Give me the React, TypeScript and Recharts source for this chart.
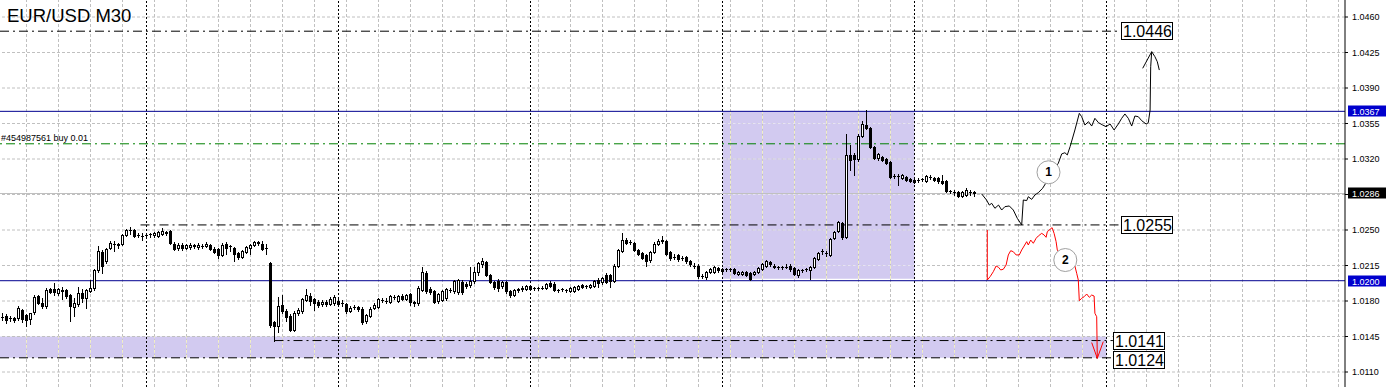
import React from "react";
import {
  ComposedChart,
  XAxis,
  YAxis,
  Scatter,
  Line,
  ReferenceLine,
  ReferenceArea,
  ReferenceDot,
} from "recharts";

// candles are [open, high, low, close] in pips above 1.0000
type OHLC = [number, number, number, number];

const DAY1: OHLC[] = [
  [164, 168, 161, 164], [165, 167, 158, 161], [163, 165, 160, 163], [163, 164, 159, 161],
  [163, 175, 161, 173], [171, 172, 159, 162], [166, 167, 155, 161], [162, 168, 157, 168],
  [169, 186, 167, 184], [185, 186, 177, 178], [178, 183, 173, 175], [175, 193, 173, 191],
  [192, 193, 188, 189], [192, 198, 186, 189], [188, 193, 186, 192], [191, 194, 182, 190],
  [191, 192, 183, 185], [186, 187, 160, 175], [174, 183, 165, 178], [177, 194, 175, 188],
  [188, 192, 179, 183], [183, 192, 173, 191], [190, 201, 189, 193], [193, 212, 191, 211],
  [211, 234, 209, 229], [228, 230, 208, 215], [219, 232, 217, 231], [232, 239, 231, 237],
  [236, 239, 229, 236], [236, 237, 232, 235], [236, 246, 235, 245], [245, 251, 244, 250],
  [250, 253, 246, 250], [250, 251, 243, 244], [245, 247, 243, 245], [244, 247, 240, 244],
];

const DAY2: OHLC[] = [
  [245, 247, 242, 245], [246, 247, 243, 246], [245, 248, 243, 247], [244, 249, 243, 248],
  [246, 252, 245, 249], [248, 249, 245, 247], [249, 250, 236, 237], [236, 238, 230, 231],
  [232, 237, 230, 235], [235, 237, 230, 232], [232, 236, 231, 235], [233, 237, 231, 235],
  [234, 236, 232, 235], [233, 237, 231, 235], [234, 236, 232, 234], [234, 238, 233, 236],
  [235, 236, 230, 231], [231, 233, 227, 228], [231, 232, 222, 225], [225, 237, 224, 235],
  [236, 238, 226, 232], [234, 235, 229, 234], [232, 233, 219, 226], [227, 228, 221, 223],
  [223, 230, 222, 229], [228, 234, 227, 233], [232, 236, 226, 235], [235, 239, 234, 238],
  [237, 239, 235, 238], [236, 239, 230, 231], [232, 236, 226, 232], [217, 218, 154, 156],
  [159, 160, 141, 155], [155, 184, 149, 175], [176, 186, 168, 170], [170, 172, 160, 164],
  [165, 167, 150, 151], [151, 170, 150, 168], [168, 173, 166, 171], [170, 183, 168, 182],
  [181, 192, 180, 186], [185, 188, 176, 180], [182, 183, 171, 178], [179, 181, 174, 176],
  [177, 181, 175, 179], [179, 181, 175, 177], [177, 184, 176, 182], [178, 186, 176, 184],
];

const DAY3: OHLC[] = [
  [180, 182, 175, 177], [178, 181, 175, 178], [177, 178, 168, 170], [170, 175, 169, 173],
  [174, 176, 172, 174], [174, 175, 170, 172], [172, 174, 157, 159], [160, 167, 158, 166],
  [165, 174, 164, 172], [173, 178, 172, 176], [174, 183, 173, 182], [181, 183, 179, 181],
  [180, 183, 178, 180], [179, 186, 178, 185], [184, 186, 182, 184], [180, 186, 179, 185],
  [185, 187, 181, 182], [182, 187, 181, 186], [187, 188, 176, 179], [179, 180, 175, 178],
  [178, 195, 176, 193], [191, 214, 190, 209], [208, 210, 188, 190], [192, 194, 187, 189],
  [190, 191, 178, 179], [180, 188, 178, 187], [181, 191, 180, 190], [183, 193, 181, 192],
  [191, 193, 189, 191], [190, 201, 188, 200], [189, 202, 187, 201], [199, 201, 187, 189],
  [197, 199, 193, 195], [196, 214, 194, 200], [200, 214, 198, 209], [209, 218, 206, 217],
  [216, 222, 214, 219], [218, 219, 205, 206], [206, 207, 198, 199], [199, 200, 192, 194],
  [200, 202, 190, 193], [195, 200, 193, 199], [199, 200, 188, 190], [190, 191, 184, 186],
  [186, 192, 185, 191], [191, 193, 189, 192], [192, 195, 190, 193], [192, 196, 191, 195],
];

const DAY4: OHLC[] = [
  [195, 196, 191, 192], [193, 194, 191, 193], [193, 194, 191, 193], [193, 195, 192, 193],
  [193, 198, 192, 197], [198, 200, 194, 195], [197, 199, 190, 191], [191, 192, 189, 191],
  [192, 193, 190, 192], [191, 192, 189, 191], [190, 194, 189, 193], [190, 195, 189, 194],
  [192, 196, 191, 195], [196, 197, 193, 194], [195, 196, 193, 195], [194, 197, 193, 196],
  [195, 201, 194, 200], [201, 203, 194, 198], [199, 204, 197, 203], [206, 208, 198, 199],
  [206, 207, 194, 200], [200, 216, 199, 215], [215, 231, 214, 230], [229, 247, 228, 240],
  [240, 242, 236, 237], [238, 240, 236, 238], [237, 238, 229, 230], [230, 231, 225, 226],
  [227, 228, 221, 222], [225, 226, 215, 219], [220, 229, 218, 228], [228, 238, 227, 236],
  [236, 241, 235, 239], [240, 244, 237, 239], [239, 240, 225, 226], [228, 229, 220, 222],
  [223, 226, 221, 223], [225, 226, 219, 221], [222, 224, 220, 222], [223, 224, 217, 219],
  [219, 220, 215, 216], [215, 217, 213, 215], [215, 216, 203, 205], [205, 207, 203, 205],
  [204, 210, 202, 209], [209, 213, 208, 212], [209, 215, 208, 214], [213, 214, 209, 211],
];

const DAY5: OHLC[] = [
  [212, 213, 209, 210], [212, 213, 210, 212], [212, 213, 210, 212], [212, 213, 207, 208],
  [207, 210, 206, 209], [207, 210, 206, 209], [209, 210, 205, 206], [208, 209, 201, 202],
  [207, 210, 206, 209], [209, 214, 208, 213], [212, 217, 211, 216], [215, 220, 214, 219],
  [218, 219, 215, 216], [215, 216, 213, 214], [214, 215, 212, 214], [214, 215, 212, 214],
  [214, 216, 213, 214], [215, 216, 210, 212], [213, 214, 206, 207], [206, 212, 204, 211],
  [211, 212, 209, 211], [212, 213, 210, 212], [211, 215, 202, 214], [214, 223, 213, 222],
  [221, 228, 220, 227], [229, 231, 226, 229], [227, 229, 224, 227], [225, 242, 224, 241],
  [242, 249, 241, 248], [249, 259, 248, 258], [257, 258, 241, 243], [243, 345, 242, 324],
  [324, 334, 309, 319], [324, 326, 304, 320], [320, 345, 318, 343], [343, 357, 342, 355],
  [354, 368, 350, 351], [351, 352, 331, 332], [332, 333, 320, 321], [321, 326, 319, 325],
  [322, 323, 318, 319], [320, 321, 315, 316], [317, 318, 301, 302], [303, 305, 301, 303],
  [303, 305, 294, 303], [301, 305, 300, 304], [302, 303, 298, 299], [300, 301, 297, 298],
];

const DAY6: OHLC[] = [
  [299, 300, 296, 297], [299, 301, 297, 299], [300, 301, 298, 300], [298, 304, 297, 303],
  [302, 304, 300, 302], [301, 302, 298, 299], [301, 302, 296, 298], [298, 304, 295, 296],
  [298, 299, 287, 288], [288, 289, 286, 288], [287, 289, 285, 287], [287, 288, 283, 284],
  [284, 288, 283, 287], [285, 291, 284, 289], [287, 289, 285, 287], [287, 288, 284, 286],
];

// hand-drawn forecast paths: [bar index, pips]
const BLACK_PATH: [number, number][] = [
  [244.8, 285.5], [246.0, 279.6], [246.7, 274.6], [247.3, 276.3], [248.1, 271.4], [249.0, 274.6],
  [249.8, 269.7], [250.6, 273], [251.7, 273.7], [252.7, 269.7], [253.7, 261.5], [254.8, 255],
  [255.2, 279.6], [256.05, 279], [256.45, 282.8], [257.3, 280.2], [258.1, 284.5], [258.95, 286.8],
  [260.0, 291], [263.95, 315.8], [264.8, 325], [265.6, 326.2], [266.2, 324], [266.9, 332.2],
  [268.1, 348.6], [269.2, 365], [269.8, 361.7], [270.6, 353.5], [271.5, 356.8], [272.3, 352.5],
  [273.1, 360.1], [274, 355.8], [275.05, 353.5], [275.9, 351.9], [276.9, 354.5], [277.9, 348.6],
  [278.95, 354.5], [279.8, 360.1], [280.6, 364.4], [281.45, 360.1], [282.3, 352.5], [283.1, 362.4],
  [283.95, 361.7], [284.8, 357.8], [285.9, 354.5], [286.45, 355.8], [286.9, 368.3], [287.05, 411],
  [287.3, 425.8], [288.1, 420.9], [288.7, 415.9], [289.2, 407.7],
];
const BLACK_WING: [number, number][] = [[285.05, 409.4], [287.3, 425.8]];

const RED_PATH: [number, number][] = [
  [246.2, 250], [246.2, 200.7], [246.9, 204], [247.7, 208.9], [248.4, 214.5], [249, 213.2],
  [249.55, 210.6], [250.2, 211.3], [250.9, 215.5], [251.45, 225.4], [252.05, 229.6], [252.7, 228.6],
  [253.4, 225.4], [254.2, 225.4], [254.8, 230.3], [255.4, 234.2], [256.05, 238.5], [256.45, 235.2],
  [257.05, 240.1], [257.7, 236.9], [258.4, 241.8], [258.95, 244.1], [259.8, 246.7], [260.4, 245.1],
  [260.9, 242.8], [261.2, 248.3], [261.9, 250.7], [262.4, 252.3], [262.9, 246.7], [263.4, 238.5],
  [263.7, 230.3], [265.7, 220], [268.1, 214.5], [268.55, 207.3], [268.95, 200.7], [269.2, 180.3],
  [269.8, 182.7], [270.4, 184.2], [271.05, 186.9], [271.7, 183.6], [272.3, 185.9], [272.9, 184.9],
  [273.1, 167.9], [273.55, 164.5], [273.7, 123.5], [275.2, 140],
];
const RED_WING: [number, number][] = [[272.3, 139], [273.7, 123.5]];

const MARKERS: { label: string; at: [number, number] }[] = [
  { label: "1", at: [261.5, 306.9] },
  { label: "2", at: [265.7, 220.4] },
];

const Y_TICKS = [1.011, 1.0145, 1.018, 1.0215, 1.025, 1.0285, 1.032, 1.0355, 1.039, 1.0425, 1.046];
const SEPARATORS = [36, 84, 132, 180, 228, 276];

const ORDER_PRICE = 1.0335;
const ORDER_TEXT = "#454987561 buy 0.01";
const LINE_HIGH = 1.0367;
const LINE_LOW = 1.02;
const BID = 1.0286;

// lavender zones: [x1, x2, y1, y2]
const ZONE_LOW = { x1: -0.625, x2: 276, y1: 1.0124, y2: 1.0145 };
const ZONE_BOX = { x1: 180, x2: 228, y1: 1.0202, y2: 1.0367 };

// chart geometry
const W = 1386;
const H = 387;
const PLOT_W = 1345;
const X_MIN = -0.625;
const X_MAX = X_MIN + PLOT_W / 4;
const PX_PER_UNIT = 355 / 0.035;
const Y_MAX = 1.046 + 17 / PX_PER_UNIT;
const Y_MIN = Y_MAX - H / PX_PER_UNIT;
const TAG_END = 279.6;
const TAG_END_LOW = 277.6;

const pip = (p: number) => 1 + p / 10000;

const CANDLES = [...DAY1, ...DAY2, ...DAY3, ...DAY4, ...DAY5, ...DAY6].map(([o, h, l, c], i) => ({
  i,
  o: pip(o),
  h: pip(h),
  l: pip(l),
  c: pip(c),
}));

const toPoints = (arr: [number, number][]) => arr.map(([i, p]) => ({ i, p: pip(p) }));

const GRID_X = Array.from({ length: 42 }, (_, k) => 6 + 8 * k);

const DASHDOT = "9 4 2 4";
const GRID = "#c0c0c0";
const GRID_ON_ZONE = "#f2efc4";
const LAVENDER = "#d2caf0";
const FONT = "'Liberation Sans', Arial, sans-serif";

function Candle(props: any) {
  const { cx, cy, payload } = props;
  if (cx == null || cy == null) return null;
  const { o, h, l, c } = payload;
  const yAt = (p: number) => Math.round(cy + (h - p) * PX_PER_UNIT);
  const x = Math.floor(cx) + 0.5;
  const hi = yAt(h);
  const lo = yAt(l);
  const top = yAt(Math.max(o, c));
  const bot = yAt(Math.min(o, c));
  return (
    <g>
      <line x1={x} x2={x} y1={hi} y2={lo + 1} stroke="#000" strokeWidth={1} />
      {top === bot ? (
        <line x1={x - 1.5} x2={x + 1.5} y1={top + 0.5} y2={top + 0.5} stroke="#000" />
      ) : c > o ? (
        <rect x={x - 1} y={top + 0.5} width={2} height={bot - top} fill="#fff" stroke="#000" />
      ) : (
        <rect x={x - 1.5} y={top} width={3} height={bot - top + 1} fill="#000" />
      )}
    </g>
  );
}

function AxisTag({ cx, cy, text, bg }: any) {
  const y = Math.round(cy);
  return (
    <g>
      <rect x={cx + 3} y={y - 5.5} width={38} height={11} fill={bg} />
      <text x={cx + 7} y={y + 3.5} fill="#fff" fontSize={9} fontFamily={FONT}>
        {text}
      </text>
    </g>
  );
}

function PriceBox({ cx, cy, text, shift = 0 }: any) {
  const y = Math.round(cy) + shift;
  return (
    <g>
      <rect x={Math.round(cx) + 0.5} y={y - 8.5} width={51} height={17} fill="#fff" stroke="#000" />
      <text x={Math.round(cx) + 2} y={y + 6} fill="#000" fontSize={16} fontFamily={FONT}>
        {text}
      </text>
    </g>
  );
}

function Marker({ cx, cy, text }: any) {
  return (
    <g>
      <circle cx={cx} cy={cy} r={11.5} fill="#fff" stroke="#a0a0a0" />
      <text x={cx} y={cy + 4} textAnchor="middle" fontSize={12} fontWeight="bold" fontFamily={FONT} fill="#000">
        {text}
      </text>
    </g>
  );
}

export default function App() {
  const zoneGridX = GRID_X.filter((g) => g > ZONE_BOX.x1 && g < ZONE_BOX.x2);
  const zoneGridY = Y_TICKS.filter((t) => t > ZONE_BOX.y1 && t < ZONE_BOX.y2);
  const lowGridX = GRID_X.filter((g) => g < ZONE_LOW.x2);
  return (
    <div style={{ position: "absolute", left: 0, top: 0, width: W, height: H, background: "#fff" }}>
      <ComposedChart width={W} height={H} margin={{ top: 0, right: 0, bottom: 0, left: 0 }}>
        <XAxis type="number" dataKey="i" domain={[X_MIN, X_MAX]} allowDataOverflow hide />
        <YAxis
          orientation="right"
          domain={[Y_MIN, Y_MAX]}
          allowDataOverflow
          ticks={Y_TICKS}
          interval={0}
          width={41}
          tickSize={3}
          tickMargin={4}
          tickFormatter={(v: number) => (v === 1.0285 ? "" : v.toFixed(4))}
          tick={{ fontSize: 9, fill: "#000", fontFamily: FONT }}
          axisLine={{ stroke: "#000" }}
          tickLine={{ stroke: "#000" }}
        />

        {Y_TICKS.map((t) => (
          <ReferenceLine key={`gy${t}`} y={t} stroke={GRID} strokeDasharray="3 2" />
        ))}
        {GRID_X.map((g) => (
          <ReferenceLine key={`gx${g}`} x={g} stroke={GRID} strokeDasharray="3 2" />
        ))}

        <ReferenceArea {...ZONE_LOW} fill={LAVENDER} fillOpacity={1} stroke="none" />
        <ReferenceArea {...ZONE_BOX} fill={LAVENDER} fillOpacity={1} stroke="none" />

        {lowGridX.map((g) => (
          <ReferenceLine
            key={`zl${g}`}
            segment={[{ x: g, y: ZONE_LOW.y1 }, { x: g, y: ZONE_LOW.y2 }]}
            stroke={GRID_ON_ZONE}
            strokeDasharray="3 2"
          />
        ))}
        {zoneGridX.map((g) => (
          <ReferenceLine
            key={`zb${g}`}
            segment={[{ x: g, y: ZONE_BOX.y1 }, { x: g, y: ZONE_BOX.y2 }]}
            stroke={GRID_ON_ZONE}
            strokeDasharray="3 2"
          />
        ))}
        {zoneGridY.map((t) => (
          <ReferenceLine
            key={`zy${t}`}
            segment={[{ x: ZONE_BOX.x1, y: t }, { x: ZONE_BOX.x2, y: t }]}
            stroke="#e6e2f4"
            strokeDasharray="3 2"
          />
        ))}

        {SEPARATORS.map((s) => (
          <ReferenceLine key={`sep${s}`} x={s} stroke="#000" strokeDasharray="2 2" />
        ))}

        <ReferenceLine y={BID} stroke="#c0c0c0" />
        <ReferenceLine y={LINE_HIGH} stroke="#000090" />
        <ReferenceLine y={LINE_LOW} stroke="#000090" />
        <ReferenceLine y={ORDER_PRICE} stroke="#008000" strokeDasharray={DASHDOT} />

        <ReferenceLine segment={[{ x: X_MIN, y: 1.0446 }, { x: TAG_END, y: 1.0446 }]} stroke="#000" strokeDasharray={DASHDOT} />
        <ReferenceLine segment={[{ x: 34.5, y: 1.0255 }, { x: TAG_END, y: 1.0255 }]} stroke="#000" strokeDasharray={DASHDOT} />
        <ReferenceLine segment={[{ x: 68, y: 1.0141 }, { x: TAG_END_LOW, y: 1.0141 }]} stroke="#000" strokeDasharray={DASHDOT} />
        <ReferenceLine segment={[{ x: X_MIN, y: 1.0124 }, { x: TAG_END_LOW, y: 1.0124 }]} stroke="#000" strokeDasharray={DASHDOT} />

        <Scatter data={CANDLES} dataKey="h" shape={Candle} isAnimationActive={false} />

        <Line data={toPoints(BLACK_PATH)} dataKey="p" stroke="#000" strokeWidth={1} dot={false} activeDot={false} isAnimationActive={false} />
        <Line data={toPoints(BLACK_WING)} dataKey="p" stroke="#000" strokeWidth={1} dot={false} activeDot={false} isAnimationActive={false} />
        <Line data={toPoints(RED_PATH)} dataKey="p" stroke="#ff0000" strokeWidth={1} dot={false} activeDot={false} isAnimationActive={false} />
        <Line data={toPoints(RED_WING)} dataKey="p" stroke="#ff0000" strokeWidth={1} dot={false} activeDot={false} isAnimationActive={false} />

        {MARKERS.map((m) => (
          <ReferenceDot
            key={m.label}
            x={m.at[0]}
            y={pip(m.at[1])}
            r={11}
            shape={(p: any) => <Marker cx={p.cx} cy={p.cy} text={m.label} />}
          />
        ))}

        <ReferenceDot x={TAG_END} y={1.0446} shape={(p: any) => <PriceBox cx={p.cx} cy={p.cy} text="1.0446" />} />
        <ReferenceDot x={TAG_END} y={1.0255} shape={(p: any) => <PriceBox cx={p.cx} cy={p.cy} text="1.0255" />} />
        <ReferenceDot x={TAG_END_LOW} y={1.0141} shape={(p: any) => <PriceBox cx={p.cx} cy={p.cy} text="1.0141" />} />
        <ReferenceDot x={TAG_END_LOW} y={1.0124} shape={(p: any) => <PriceBox cx={p.cx} cy={p.cy} text="1.0124" shift={2} />} />

        <ReferenceDot
          x={X_MIN}
          y={ORDER_PRICE}
          ifOverflow="visible"
          shape={(p: any) => (
            <text x={p.cx + 1} y={Math.round(p.cy) - 3} fontSize={9} fontFamily={FONT} fill="#000">
              {ORDER_TEXT}
            </text>
          )}
        />

        <ReferenceDot x={X_MAX} y={LINE_HIGH} ifOverflow="visible" shape={(p: any) => <AxisTag cx={p.cx} cy={p.cy} text={LINE_HIGH.toFixed(4)} bg="#0000cd" />} />
        <ReferenceDot x={X_MAX} y={BID} ifOverflow="visible" shape={(p: any) => <AxisTag cx={p.cx} cy={p.cy} text={BID.toFixed(4)} bg="#000" />} />
        <ReferenceDot x={X_MAX} y={LINE_LOW} ifOverflow="visible" shape={(p: any) => <AxisTag cx={p.cx} cy={p.cy} text={LINE_LOW.toFixed(4)} bg="#0000cd" />} />
      </ComposedChart>
      <div
        style={{
          position: "absolute",
          left: 7,
          top: 7,
          fontFamily: FONT,
          fontSize: 18.5,
          lineHeight: 1,
          color: "#000",
          pointerEvents: "none",
        }}
      >
        EUR/USD M30
      </div>
    </div>
  );
}
